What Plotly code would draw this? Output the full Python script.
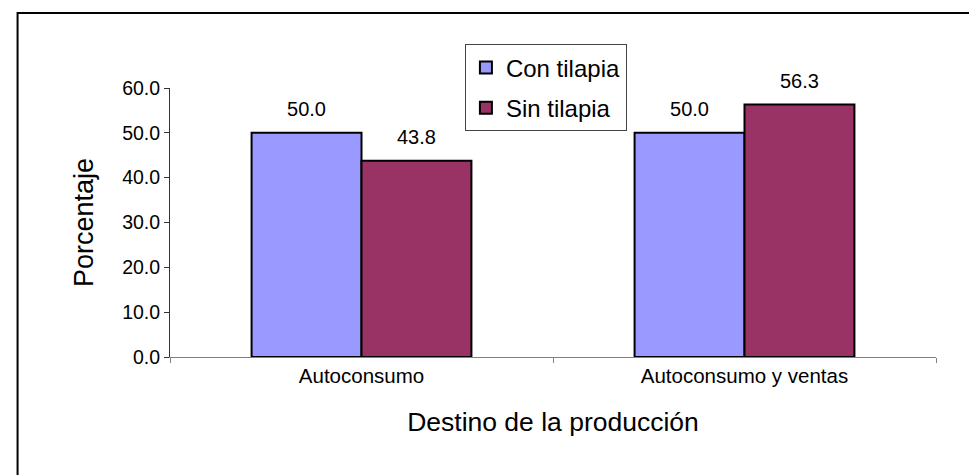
import plotly.graph_objects as go

# Data
categories = ["Autoconsumo", "Autoconsumo y ventas"]
con_tilapia = [50.0, 50.0]
sin_tilapia = [43.8, 56.3]

series_names = ["Con tilapia", "Sin tilapia"]
series_colors = ["#9999FF", "#993366"]

FONT = "Arial, Liberation Sans, sans-serif"

fig = go.Figure()

for name, values, color in zip(series_names, [con_tilapia, sin_tilapia], series_colors):
    fig.add_trace(go.Bar(
        x=categories,
        y=values,
        name=name,
        legendgroup=name,
        offsetgroup=name,
        marker=dict(color=color, line=dict(color="black", width=2)),
        hoverinfo="skip",
    ))

# value labels, grouped like the bars (scattermode="group")
for name, values in zip(series_names, [con_tilapia, sin_tilapia]):
    fig.add_trace(go.Scatter(
        x=categories,
        y=values,
        mode="markers+text",
        text=[f"{v:.1f}" for v in values],
        textposition="top center",
        textfont=dict(family=FONT, size=20, color="black"),
        marker=dict(size=17, opacity=0),
        offsetgroup=name,
        showlegend=False,
        hoverinfo="skip",
        cliponaxis=False,
    ))

fig.update_layout(
    width=977,
    height=475,
    margin=dict(l=162, r=49, t=80, b=126, autoexpand=False),
    paper_bgcolor="white",
    plot_bgcolor="white",
    barmode="group",
    bargap=0.426,
    bargroupgap=0,
    scattermode="group",
    scattergap=0.426,
    font=dict(family=FONT, color="black"),
    showlegend=True,
    legend=dict(
        x=0.385, y=1.162, xanchor="left", yanchor="top",
        bgcolor="white", bordercolor="#444", borderwidth=1,
        font=dict(family=FONT, size=24, color="black"),
        tracegroupgap=6,
        itemwidth=30,
    ),
)

fig.update_xaxes(
    type="category",
    showline=True, linecolor="#808080", linewidth=1,
    ticks="outside", tickson="boundaries", ticklen=5, tickcolor="#808080",
    showgrid=False, zeroline=False,
    tickfont=dict(family=FONT, size=20.5, color="black"),
    title=dict(text="Destino de la producción", font=dict(family=FONT, size=26.5, color="black"), standoff=26),
)
fig.update_yaxes(
    range=[0, 60], dtick=10, tickformat=".1f",
    showline=True, linecolor="#333", linewidth=1,
    ticks="outside", ticklen=5, tickcolor="#333",
    showgrid=False, zeroline=False,
    tickfont=dict(family=FONT, size=19.5, color="black"),
    title=dict(text="Porcentaje", font=dict(family=FONT, size=27, color="black"), standoff=20),
)

# outer frame of the chart area (cut off at right and bottom in the reference)
fig.add_shape(type="rect", xref="paper", yref="paper",
              x0=-0.199, y0=-0.7, x1=1.2, y1=1.279,
              line=dict(color="black", width=2), fillcolor="rgba(0,0,0,0)", layer="above")

fig.write_html("out.html")
